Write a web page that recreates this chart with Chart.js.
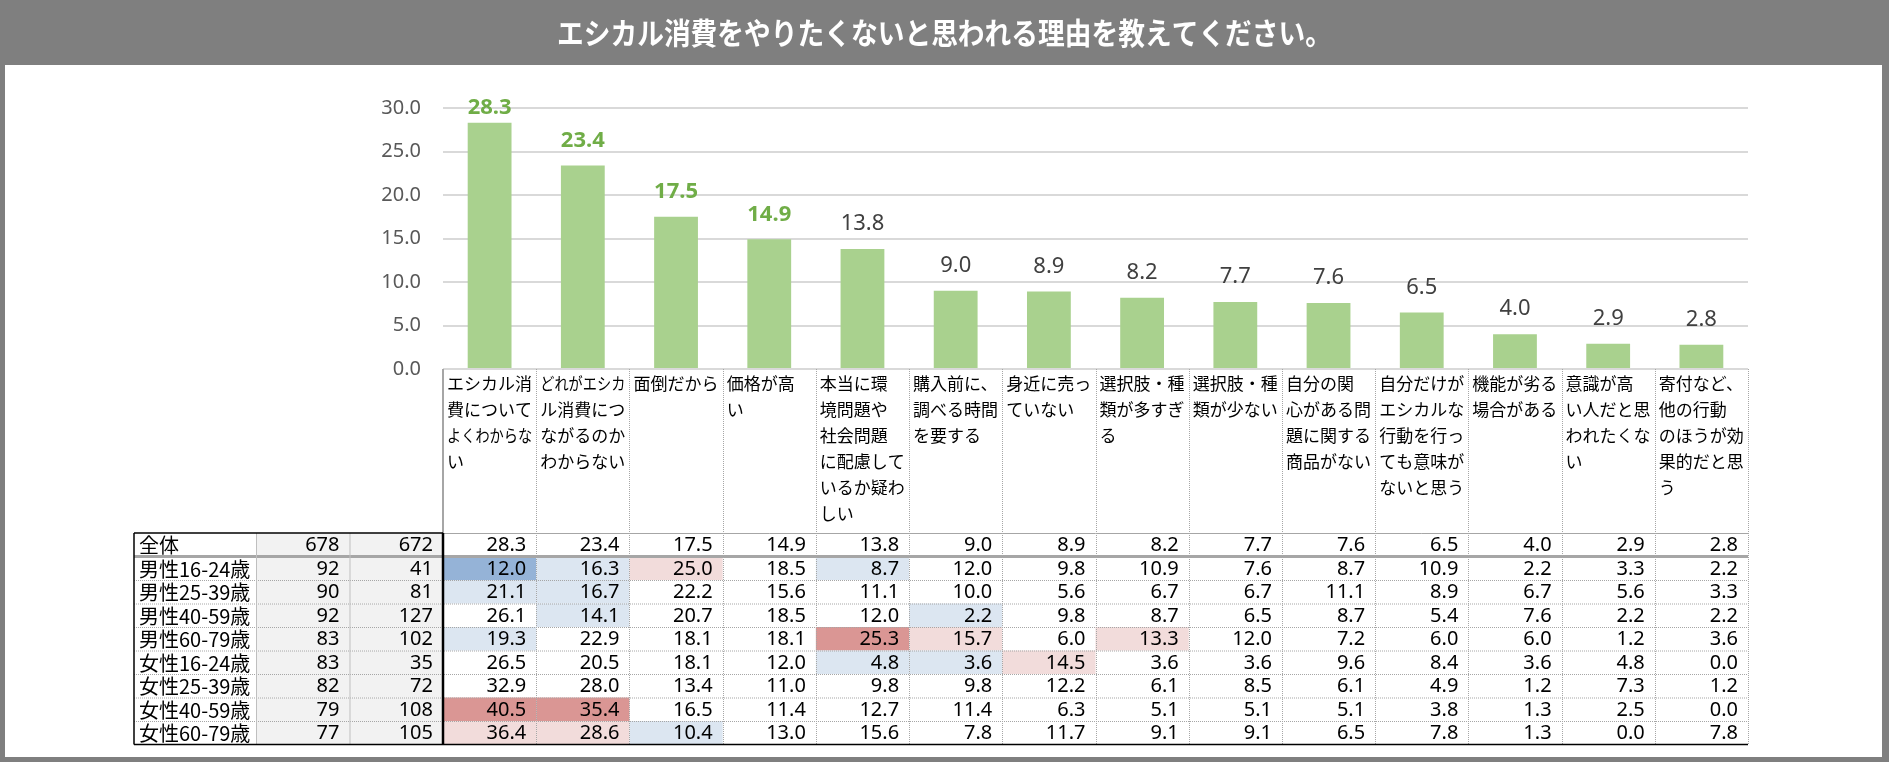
<!DOCTYPE html>
<html lang="ja">
<head>
<meta charset="utf-8">
<title>エシカル消費をやりたくない理由</title>
<script src="https://cdn.jsdelivr.net/npm/chart.js@4.4.1/dist/chart.umd.min.js"></script>
<style>
  html, body { margin: 0; padding: 0; background: #ffffff; }
  #chart { display: block; }
</style>
</head>
<body>
<canvas id="chart" width="1889" height="762"></canvas>
<script>
const titleText = 'エシカル消費をやりたくないと思われる理由を教えてください。';

// category labels, already broken into the lines used in the header cells
const categories = [
    ['エシカル消', '費について', 'よくわからな', 'い'],
    ['どれがエシカ', 'ル消費につ', 'ながるのか', 'わからない'],
    ['面倒だから'],
    ['価格が高', 'い'],
    ['本当に環', '境問題や', '社会問題', 'に配慮して', 'いるか疑わ', 'しい'],
    ['購入前に、', '調べる時間', 'を要する'],
    ['身近に売っ', 'ていない'],
    ['選択肢・種', '類が多すぎ', 'る'],
    ['選択肢・種', '類が少ない'],
    ['自分の関', '心がある問', '題に関する', '商品がない'],
    ['自分だけが', 'エシカルな', '行動を行っ', 'ても意味が', 'ないと思う'],
    ['機能が劣る', '場合がある'],
    ['意識が高', 'い人だと思', 'われたくな', 'い'],
    ['寄付など、', '他の行動', 'のほうが効', '果的だと思', 'う']
];

const overallValues = [28.3, 23.4, 17.5, 14.9, 13.8, 9.0, 8.9, 8.2, 7.7, 7.6, 6.5, 4.0, 2.9, 2.8];
const overallBase = [678, 672];

const groupNames = ['男性16-24歳', '男性25-39歳', '男性40-59歳', '男性60-79歳',
    '女性16-24歳', '女性25-39歳', '女性40-59歳', '女性60-79歳'];
const groupBaseA = [92, 90, 92, 83, 83, 82, 79, 77];
const groupBaseB = [41, 81, 127, 102, 35, 72, 108, 105];

const male1624 = [12.0, 16.3, 25.0, 18.5, 8.7, 12.0, 9.8, 10.9, 7.6, 8.7, 10.9, 2.2, 3.3, 2.2];
const male2539 = [21.1, 16.7, 22.2, 15.6, 11.1, 10.0, 5.6, 6.7, 6.7, 11.1, 8.9, 6.7, 5.6, 3.3];
const male4059 = [26.1, 14.1, 20.7, 18.5, 12.0, 2.2, 9.8, 8.7, 6.5, 8.7, 5.4, 7.6, 2.2, 2.2];
const male6079 = [19.3, 22.9, 18.1, 18.1, 25.3, 15.7, 6.0, 13.3, 12.0, 7.2, 6.0, 6.0, 1.2, 3.6];
const female1624 = [26.5, 20.5, 18.1, 12.0, 4.8, 3.6, 14.5, 3.6, 3.6, 9.6, 8.4, 3.6, 4.8, 0.0];
const female2539 = [32.9, 28.0, 13.4, 11.0, 9.8, 9.8, 12.2, 6.1, 8.5, 6.1, 4.9, 1.2, 7.3, 1.2];
const female4059 = [40.5, 35.4, 16.5, 11.4, 12.7, 11.4, 6.3, 5.1, 5.1, 5.1, 3.8, 1.3, 2.5, 0.0];
const female6079 = [36.4, 28.6, 10.4, 13.0, 15.6, 7.8, 11.7, 9.1, 9.1, 6.5, 7.8, 1.3, 0.0, 7.8];
const groupValues = [male1624, male2539, male4059, male6079, female1624, female2539, female4059, female6079];

const yMin = 0;
const yMax = 30;
const yStep = 5;

// styling
const FONT = '"Noto Sans CJK JP", "Noto Sans", sans-serif';
const NUM_FONT = '"Noto Sans", "Noto Sans CJK JP", sans-serif';
const TOP_RANK = 4;
const LABEL_W = 122;
const NCOL_W = 93.5;
const HEAD_H = 164;
const ROW_H = 23.5;

function cellColor(value, base) {
    const diff = Math.round((value - base) * 10) / 10;
    if (diff > 10) return '#da9694';
    if (diff > 5) return '#f2dcdb';
    if (diff < -10) return '#95b3d7';
    if (diff < -5) return '#dce6f1';
    return null;
}

// gray frame, title bar and title text
const framePlugin = {
    id: 'frame',
    beforeDraw(chart) {
        const ctx = chart.ctx;
        ctx.save();
        ctx.fillStyle = '#7f7f7f';
        ctx.fillRect(0, 0, chart.width, chart.height);
        ctx.fillStyle = '#ffffff';
        ctx.fillRect(5, 65, chart.width - 12, chart.height - 70);
        ctx.fillStyle = '#ffffff';
        ctx.font = 'bold 30px ' + FONT;
        ctx.textAlign = 'center';
        ctx.textBaseline = 'middle';
        ctx.fillText(titleText, chart.width / 2, 33, 775);
        ctx.restore();
    }
};

const valueLabelPlugin = {
    id: 'valueLabels',
    afterDatasetsDraw(chart) {
        const ctx = chart.ctx;
        const meta = chart.getDatasetMeta(0);
        ctx.save();
        ctx.textAlign = 'center';
        ctx.textBaseline = 'middle';
        meta.data.forEach((bar, i) => {
            const top = i < TOP_RANK;
            ctx.font = (top ? 'bold ' : '') + '22px ' + NUM_FONT;
            ctx.fillStyle = top ? '#70ad47' : '#404040';
            const y = Math.max(bar.y - 25, chart.chartArea.top);
            ctx.fillText(overallValues[i].toFixed(1), bar.x, y);
        });
        ctx.restore();
    }
};

function hLine(ctx, x1, x2, y, color, width, dash) {
    ctx.beginPath();
    ctx.setLineDash(dash || []);
    ctx.strokeStyle = color;
    ctx.lineWidth = width;
    ctx.moveTo(x1, y);
    ctx.lineTo(x2, y);
    ctx.stroke();
}

function vLine(ctx, x, y1, y2, color, width, dash) {
    ctx.beginPath();
    ctx.setLineDash(dash || []);
    ctx.strokeStyle = color;
    ctx.lineWidth = width;
    ctx.moveTo(x, y1);
    ctx.lineTo(x, y2);
    ctx.stroke();
}

const tablePlugin = {
    id: 'crossTable',
    afterDraw(chart) {
        const ctx = chart.ctx;
        const area = chart.chartArea;
        const xs = chart.scales.x;
        const colW = xs.getPixelForValue(1) - xs.getPixelForValue(0);
        const colLeft = i => xs.getPixelForValue(i) - colW / 2;

        const dataLeft = area.left;
        const dataRight = area.right;
        const nB = dataLeft - NCOL_W;
        const nA = nB - NCOL_W;
        const labelLeft = nA - LABEL_W;
        const headTop = area.bottom;
        const tableTop = headTop + HEAD_H;

        const rows = [{ name: '全体', a: overallBase[0], b: overallBase[1], vals: overallValues }];
        groupNames.forEach((name, r) => {
            rows.push({ name: name, a: groupBaseA[r], b: groupBaseB[r], vals: groupValues[r] });
        });
        const tableBottom = tableTop + rows.length * ROW_H;

        ctx.save();

        // cell backgrounds
        rows.forEach((row, r) => {
            const top = tableTop + r * ROW_H;
            ctx.fillStyle = '#f2f2f2';
            ctx.fillRect(nA, top, NCOL_W * 2, ROW_H);
            if (r === 0) return;
            row.vals.forEach((v, i) => {
                const c = cellColor(v, overallValues[i]);
                if (c) {
                    ctx.fillStyle = c;
                    ctx.fillRect(colLeft(i), top, colW, ROW_H);
                }
            });
        });

        // row separators
        for (let r = 2; r < rows.length; r++) {
            hLine(ctx, labelLeft, dataRight, tableTop + r * ROW_H + 0.5, '#a6a6a6', 1, [1, 1]);
        }
        hLine(ctx, labelLeft, dataRight, tableTop + ROW_H, '#a6a6a6', 3);
        hLine(ctx, dataLeft, dataRight, tableTop + 0.5, '#a6a6a6', 1);

        // column separators
        for (let i = 1; i <= categories.length; i++) {
            vLine(ctx, Math.round(colLeft(i)) + 0.5, headTop, tableBottom, '#a6a6a6', 1, [1, 1]);
        }
        vLine(ctx, nA + 0.5, tableTop, tableBottom, '#bfbfbf', 1);
        vLine(ctx, nB + 0.5, tableTop, tableBottom, '#bfbfbf', 1);
        vLine(ctx, dataLeft, headTop, tableTop, '#a6a6a6', 2);

        // outer black borders
        vLine(ctx, dataLeft, tableTop, tableBottom, '#000000', 2.5);
        hLine(ctx, labelLeft, dataLeft, tableTop, '#000000', 1.5);
        vLine(ctx, labelLeft, tableTop, tableBottom, '#000000', 1.5);
        hLine(ctx, labelLeft, dataRight, tableBottom, '#000000', 1.5);

        // header labels
        ctx.fillStyle = '#000000';
        ctx.textAlign = 'left';
        ctx.textBaseline = 'middle';
        ctx.font = '17px ' + FONT;
        categories.forEach((lines, i) => {
            lines.forEach((line, k) => {
                ctx.fillText(line, colLeft(i) + 4, headTop + 15 + k * 26, colW - 8);
            });
        });

        // table text
        rows.forEach((row, r) => {
            const y = tableTop + r * ROW_H + ROW_H / 2 + 1;
            ctx.font = '20px ' + FONT;
            ctx.textAlign = 'left';
            ctx.fillText(row.name, labelLeft + 5, y);
            ctx.font = '20px ' + NUM_FONT;
            ctx.textAlign = 'right';
            ctx.fillText(String(row.a), nA + NCOL_W - 10, y);
            ctx.fillText(String(row.b), nB + NCOL_W - 10, y);
            row.vals.forEach((v, i) => {
                ctx.fillText(v.toFixed(1), colLeft(i) + colW - 10, y);
            });
        });

        ctx.restore();
    }
};

new Chart(document.getElementById('chart'), {
    type: 'bar',
    data: {
        labels: categories,
        datasets: [{
            data: overallValues,
            backgroundColor: '#a9d18e',
            barPercentage: 0.47,
            categoryPercentage: 1.0
        }]
    },
    options: {
        responsive: false,
        devicePixelRatio: 1,
        animation: false,
        layout: {
            padding: { top: 108, left: 0, right: 141, bottom: 393 }
        },
        scales: {
            x: {
                display: false
            },
            y: {
                min: yMin,
                max: yMax,
                afterFit(scale) {
                    scale.width = 443;
                },
                ticks: {
                    stepSize: yStep,
                    padding: 22,
                    color: '#595959',
                    font: { size: 20, family: NUM_FONT },
                    callback: v => Number(v).toFixed(1)
                },
                grid: {
                    color: '#d9d9d9',
                    lineWidth: 2,
                    drawTicks: false
                },
                border: { display: false }
            }
        },
        plugins: {
            legend: { display: false },
            tooltip: { enabled: false },
            title: { display: false }
        }
    },
    plugins: [framePlugin, valueLabelPlugin, tablePlugin]
});
</script>
</body>
</html>
